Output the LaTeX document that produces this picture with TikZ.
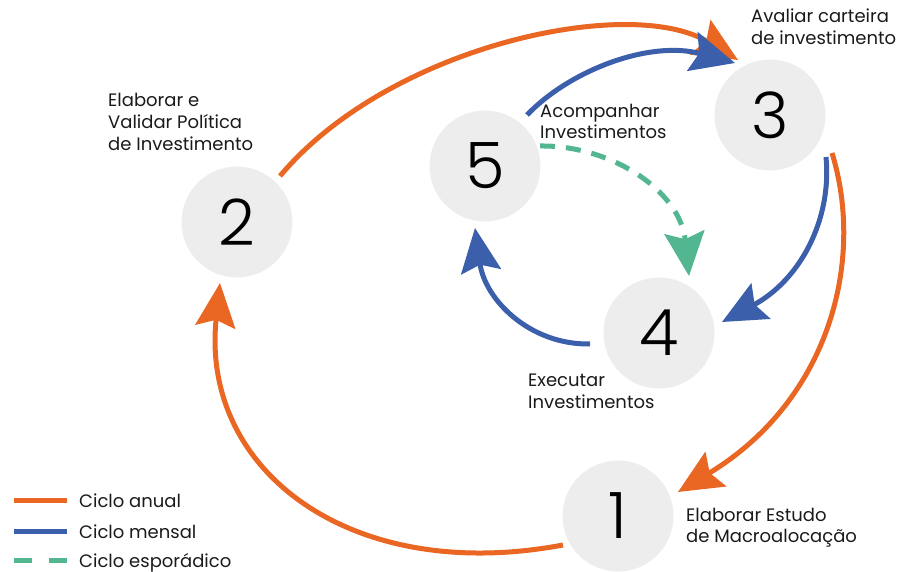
\documentclass[tikz,border=0pt]{standalone}
\usepackage{fontspec}
\setmainfont{Poppins}
\IfFontExistsTF{Poppins Light}{\newfontfamily\digitfont{Poppins Light}}{\newfontfamily\digitfont{Poppins}}
\usetikzlibrary{arrows.meta,calc}
\definecolor{corange}{HTML}{EA6623}
\definecolor{cblue}{HTML}{3B5FAA}
\definecolor{cgreen}{HTML}{52B691}
\definecolor{cgray}{HTML}{EDEDED}
\definecolor{ctext}{HTML}{1A1A1A}
\begin{document}
\begin{tikzpicture}[x=1pt,y=-1pt,
  stage/.style={circle,fill=cgray,minimum size=111pt,inner sep=0pt,
    font=\digitfont\fontsize{64}{64}\selectfont,text=black},
  lbl/.style={anchor=base west,inner sep=0pt,font=\fontsize{18}{20}\selectfont,text=ctext},
  flow/.style={line width=5pt,-{Stealth[length=44pt,width=40pt,inset=7pt]}},
  anual/.style={flow,draw=corange},
  mensal/.style={flow,draw=cblue},
  esporadico/.style={flow,draw=cgreen,dash pattern=on 15pt off 11pt},
  legline/.style={line width=5pt}
]
\useasboundingbox (0,0) rectangle (899,572);

% stages
\node[stage] (n1) at (618,516) {1};
\node[stage] (n2) at (237,222) {2};
\node[stage] (n3) at (770,115) {3};
\node[stage] (n4) at (659,333) {4};
\node[stage] (n5) at (485,166) {5};

% labels
\node[lbl] (l1a) at (686,521) {Elaborar Estudo};
\node[lbl] (l1b) at (686,542) {de Macroalocação};
\node[lbl] (l2a) at (108,107) {Elaborar e};
\node[lbl] (l2b) at (108,129) {Validar Política};
\node[lbl] (l2c) at (108,151) {de Investimento};
\node[lbl] (l3a) at (751,23) {Avaliar carteira};
\node[lbl] (l3b) at (751,45) {de investimento};
\node[lbl] (l4a) at (528,386) {Executar};
\node[lbl] (l4b) at (528,408) {Investimentos};
\node[lbl] (l5a) at (540,118) {Acompanhar};
\node[lbl] (l5b) at (540,139) {Investimentos};

% end points
\coordinate (s12) at ($(n1)+(-55,29)$);
\coordinate (t12) at ($(n2)+(-17,61)$);
\coordinate (s23) at ($(n2)+(43,-46)$);
\coordinate (t23) at ($(n3)+(-32,-55)$);
\coordinate (s31) at ($(n3)+(62,38)$);
\coordinate (t31) at ($(n1)+(60,-24)$);
\coordinate (s53) at ($(n5)+(42,-51)$);
\coordinate (t53) at ($(n3)+(-35,-52)$);
\coordinate (s34) at ($(n3)+(56,42)$);
\coordinate (t34) at ($(n4)+(63,-11)$);
\coordinate (s45) at ($(n4)+(-69,11)$);
\coordinate (t45) at ($(n5)+(-10,62)$);
\coordinate (s54) at ($(n5)+(55,-20)$);
\coordinate (t54) at ($(n4)+(30,-57)$);

% annual cycle
\draw[anual] (s12) .. controls (350,585) and (200,470) .. (t12);
\draw[anual] (s23) .. controls (390,45) and (630,-5) .. (t23);
\draw[anual] (s31) .. controls (865,260) and (830,400) .. (t31);
% monthly cycle
\draw[mensal] (s53) .. controls (570,70) and (650,40) .. (t53);
\draw[mensal] (s34) .. controls (832,220) and (800,280) .. (t34);
\draw[mensal] (s45) .. controls (530,345) and (485,300) .. (t45);
% sporadic
\draw[esporadico] (s54) .. controls (610,145) and (680,190) .. (t54);

% legend
\coordinate (g1a) at (14,500); \coordinate (g1b) at (67,500);
\coordinate (g2a) at (14,531); \coordinate (g2b) at (67,531);
\coordinate (g3a) at (14,560); \coordinate (g3b) at (67,560);
\draw[legline,corange] (g1a) -- (g1b);
\draw[legline,cblue] (g2a) -- (g2b);
\draw[legline,cgreen,dash pattern=on 18pt off 17pt] (g3a) -- (g3b);
\node[lbl] (k1) at (79,507) {Ciclo anual};
\node[lbl] (k2) at (79,538) {Ciclo mensal};
\node[lbl] (k3) at (79,567) {Ciclo esporádico};
\end{tikzpicture}
\end{document}
